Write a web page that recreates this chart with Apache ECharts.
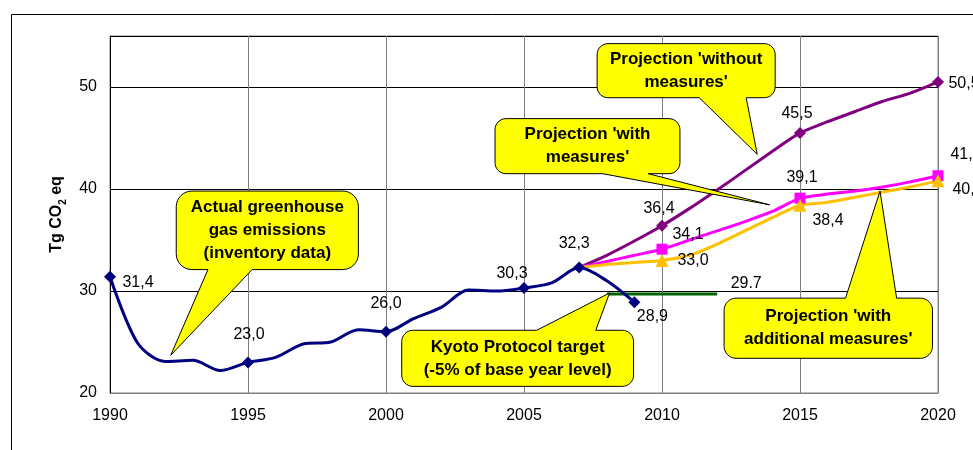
<!DOCTYPE html>
<html>
<head>
<meta charset="utf-8">
<title>Greenhouse gas emissions and projections</title>
<script src="https://cdn.jsdelivr.net/npm/echarts@6/dist/echarts.min.js"></script>
<style>
  html, body { margin: 0; padding: 0; background: #fff; }
  #chart { width: 973px; height: 450px; }
</style>
</head>
<body>
<div id="chart"></div>
<script>
// inventory data 1990-2009
const histYears = [1990, 1991, 1992, 1993, 1994, 1995, 1996, 1997, 1998, 1999,
                   2000, 2001, 2002, 2003, 2004, 2005, 2006, 2007, 2008, 2009];
const histValues = [31.4, 24.9, 23.1, 23.2, 22.2, 23.0, 23.5, 24.8, 25.0, 26.2,
                    26.0, 27.3, 28.4, 30.1, 30.0, 30.3, 30.8, 32.3, 31.0, 28.9];

// projections 2007-2020
const projYears = [2007, 2008, 2009, 2010, 2011, 2012, 2013, 2014, 2015, 2016, 2017, 2018, 2019, 2020];
const withoutMeasures = [32.3, 33.5, 34.9, 36.4, 38.1, 39.9, 41.8, 43.7, 45.5, 46.6, 47.6, 48.6, 49.4, 50.5];
const withMeasures    = [32.3, 32.9, 33.5, 34.1, 35.0, 35.9, 36.8, 37.8, 39.1, 39.5, 39.8, 40.2, 40.7, 41.3];
const withAdditional  = [32.3, 32.6, 32.8, 33.0, 33.5, 34.6, 35.9, 37.2, 38.4, 38.7, 39.2, 39.7, 40.2, 40.8];

// Kyoto target line
const kyotoYears = [2008, 2012];
const kyotoValues = [29.7, 29.7];

// points that get a marker and a value label
const histMarked = [1990, 1995, 2000, 2005, 2007, 2009];
const projMarked = [2010, 2015, 2020];

// label offsets from the marker centre (px)
const labelOffsets = {
  hist: { 1990: [28, 6], 1995: [1, -28], 2000: [0, -28], 2005: [-12, -14], 2007: [-5, -24], 2009: [18, 14] },
  wom:  { 2010: [-3, -17], 2015: [-3, -19], 2020: [26, 2] },
  wm:   { 2010: [26, -15], 2015: [2, -21], 2020: [28, -21] },
  wam:  { 2010: [31, 0], 2015: [28, 15], 2020: [30, 9] }
};

const FONT = 'Liberation Sans, Arial, sans-serif';

function fmt(v) {
  return v.toFixed(1).replace('.', ',');
}

function buildData(years, values, marked, offsets, size) {
  return years.map((yr, i) => {
    if (marked.indexOf(yr) < 0) {
      return { value: [yr, values[i]], symbol: 'none' };
    }
    return {
      value: [yr, values[i]],
      symbolSize: size,
      label: {
        show: true,
        position: 'inside',
        offset: offsets[yr],
        formatter: () => fmt(values[i])
      }
    };
  });
}

const labelStyle = { color: '#000', fontSize: 16, fontFamily: FONT };

const chart = echarts.init(document.getElementById('chart'));

chart.setOption({
  animation: false,
  grid: { left: 110, right: 35, top: 36, bottom: 57, show: true, borderColor: '#808080', borderWidth: 1 },
  xAxis: {
    type: 'value', min: 1990, max: 2020, interval: 5,
    axisLine: { lineStyle: { color: '#808080', width: 1 } },
    axisTick: { show: false },
    splitLine: { show: true, lineStyle: { color: '#808080', width: 1 } },
    axisLabel: { color: '#000', fontSize: 16, fontFamily: FONT, margin: 15, formatter: v => String(v) }
  },
  yAxis: {
    type: 'value', min: 20, max: 55, interval: 10,
    axisLine: { show: true, lineStyle: { color: '#000', width: 1 } },
    axisTick: { show: false },
    splitLine: { show: true, lineStyle: { color: '#000', width: 1 } },
    axisLabel: {
      color: '#000', fontSize: 16, fontFamily: FONT, margin: 13,
      formatter: v => (v % 10 === 0 ? String(v) : '')
    },
    name: '{t|Tg CO}{s|2}{t| eq}',
    nameLocation: 'middle',
    nameGap: 42,
    nameTextStyle: {
      rich: {
        t: { fontSize: 16, fontWeight: 'bold', fontFamily: FONT, color: '#000', lineHeight: 22, verticalAlign: 'middle' },
        s: { fontSize: 10, fontWeight: 'bold', fontFamily: FONT, color: '#000', lineHeight: 22, verticalAlign: 'bottom' }
      }
    }
  },
  series: [
    {
      name: 'without measures', type: 'line', z: 3,
      data: buildData(projYears, withoutMeasures, projMarked, labelOffsets.wom, 12),
      symbol: 'diamond', smooth: 0.2,
      lineStyle: { color: '#800080', width: 3 },
      itemStyle: { color: '#800080' },
      label: labelStyle
    },
    {
      name: 'with measures', type: 'line', z: 3,
      data: buildData(projYears, withMeasures, projMarked, labelOffsets.wm, 11),
      symbol: 'rect', smooth: 0.2,
      lineStyle: { color: '#FF00FF', width: 3 },
      itemStyle: { color: '#FF00FF' },
      label: labelStyle
    },
    {
      name: 'with additional measures', type: 'line', z: 3,
      data: buildData(projYears, withAdditional, projMarked, labelOffsets.wam, 13),
      symbol: 'triangle', smooth: 0.2,
      lineStyle: { color: '#FFC000', width: 3 },
      itemStyle: { color: '#FFC000' },
      label: labelStyle
    },
    {
      name: 'Kyoto target', type: 'line', z: 2,
      data: kyotoYears.map((yr, i) => ({
        value: [yr, kyotoValues[i]],
        label: i === kyotoYears.length - 1
          ? { show: true, position: 'inside', offset: [29, -10], formatter: () => kyotoValues[i].toFixed(1) }
          : { show: false }
      })),
      symbol: 'circle', symbolSize: 1,
      itemStyle: { color: 'rgba(0,0,0,0)' },
      lineStyle: { color: '#006400', width: 3 },
      label: labelStyle
    },
    {
      name: 'inventory', type: 'line', z: 4,
      data: buildData(histYears, histValues, histMarked, labelOffsets.hist, 12),
      symbol: 'diamond', smooth: 0.3,
      lineStyle: { color: '#000080', width: 3 },
      itemStyle: { color: '#000080' },
      label: labelStyle
    }
  ]
});

// callout boxes, placed in data coordinates
const callouts = [
  { lines: ['Actual greenhouse', 'gas emissions', '(inventory data)'],
    box: [1992.4, 39.8, 1999.0, 32.1], side: 'bottom', base: [1993.55, 1995.15], tip: [1992.2, 23.7] },
  { lines: ['Kyoto Protocol target', '(-5% of base year level)'],
    box: [2000.57, 26.15, 2008.97, 20.65], side: 'top', base: [2005.46, 2007.6], tip: [2008.1, 29.8] },
  { lines: ["Projection 'with", "measures'"],
    box: [2003.95, 46.9, 2010.65, 41.5], side: 'bottom', base: [2007.85, 2009.5], tip: [2013.9, 38.45] },
  { lines: ["Projection 'without", "measures'"],
    box: [2007.65, 54.25, 2014.1, 48.95], side: 'bottom', base: [2011.35, 2013.05], tip: [2013.45, 43.4] },
  { lines: ["Projection 'with", "additional measures'"],
    box: [2012.25, 29.3, 2019.8, 23.4], side: 'top', base: [2016.65, 2018.5], tip: [2017.9, 39.8] }
];

function px(p) {
  return chart.convertToPixel({ gridIndex: 0 }, p);
}

// quarter-circle corner points from angle a0 to a1 around (cx, cy)
function arc(cx, cy, r, a0, a1) {
  const pts = [];
  for (let k = 0; k <= 8; k++) {
    const a = a0 + (a1 - a0) * k / 8;
    pts.push([cx + r * Math.cos(a), cy + r * Math.sin(a)]);
  }
  return pts;
}

function calloutPoints(c) {
  const a = px([c.box[0], c.box[1]]);
  const b = px([c.box[2], c.box[3]]);
  const x0 = a[0], y0 = a[1], x1 = b[0], y1 = b[1];
  const r = Math.min(x1 - x0, y1 - y0) * 0.2;
  const bx0 = px([c.base[0], c.box[1]])[0];
  const bx1 = px([c.base[1], c.box[1]])[0];
  const t = px(c.tip);
  const PI = Math.PI;
  let pts = [];
  pts = pts.concat(arc(x0 + r, y0 + r, r, PI, 1.5 * PI));
  if (c.side === 'top') pts.push([bx0, y0], t, [bx1, y0]);
  pts = pts.concat(arc(x1 - r, y0 + r, r, 1.5 * PI, 2 * PI));
  pts = pts.concat(arc(x1 - r, y1 - r, r, 0, 0.5 * PI));
  if (c.side === 'bottom') pts.push([bx1, y1], t, [bx0, y1]);
  pts = pts.concat(arc(x0 + r, y1 - r, r, 0.5 * PI, PI));
  return { pts: pts, cx: (x0 + x1) / 2, cy: (y0 + y1) / 2 };
}

const graphics = [
  // outer chart frame (only top and left edges fall inside the picture)
  { type: 'rect', shape: { x: 11.5, y: 14.5, width: 1200, height: 800 },
    style: { fill: 'none', stroke: '#000', lineWidth: 1 }, z: 0 }
];

callouts.forEach(c => {
  const p = calloutPoints(c);
  graphics.push({
    type: 'polygon', shape: { points: p.pts }, z: 10,
    style: { fill: '#FFFF00', stroke: '#000', lineWidth: 1 }
  });
  graphics.push({
    type: 'text', x: p.cx, y: p.cy, z: 11,
    style: {
      text: c.lines.join('\n'), fill: '#000',
      fontSize: 17, fontWeight: 'bold', fontFamily: FONT,
      lineHeight: 23, align: 'center', verticalAlign: 'middle'
    }
  });
});

chart.setOption({ graphic: graphics });
</script>
</body>
</html>
